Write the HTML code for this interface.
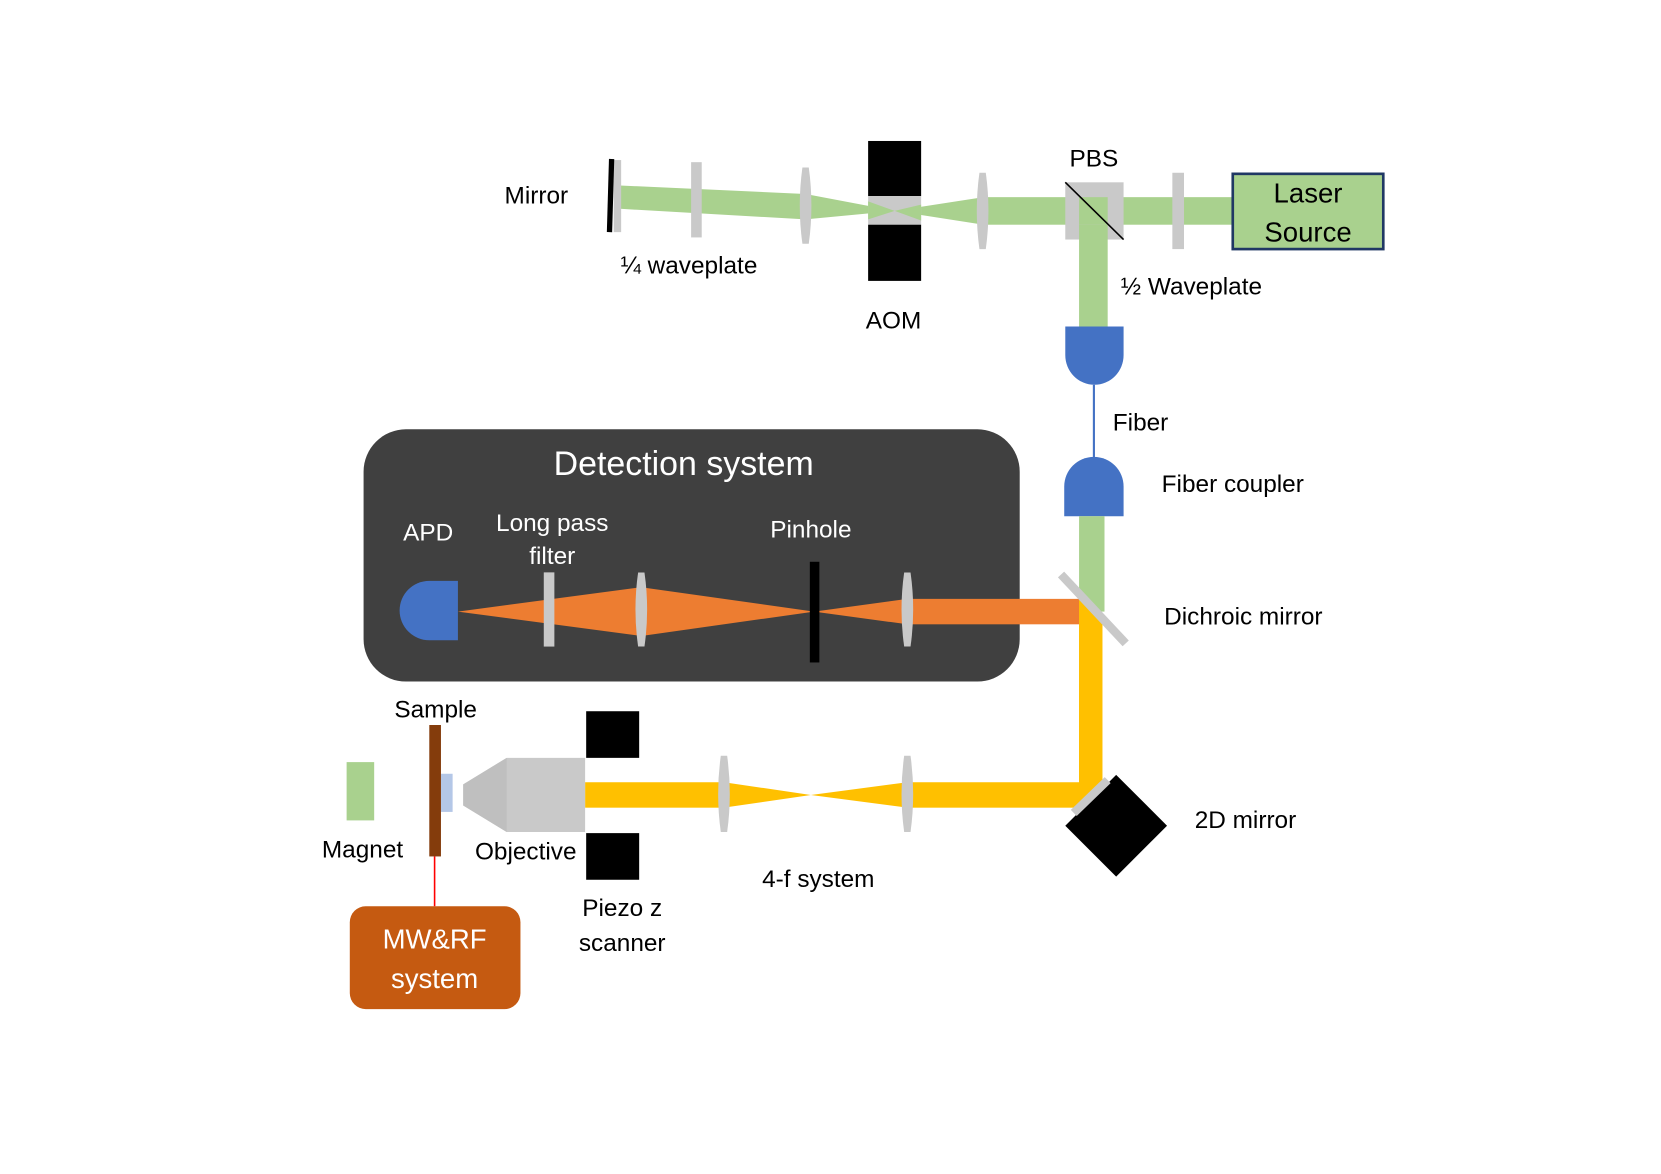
<!DOCTYPE html>
<html><head><meta charset="utf-8"><style>
html,body{margin:0;padding:0;background:#fff}
svg{display:block}
text{font-family:"Liberation Sans",sans-serif;font-size:23px;fill:#000}
</style></head><body>
<svg width="1661" height="1174" viewBox="0 0 1567 1107.6" preserveAspectRatio="none" xmlns="http://www.w3.org/2000/svg">
<defs>
<path id="lens" d="M-3,-36 L3,-36 Q8,0 3,36 L-3,36 Q-8,0 -3,-36 Z" fill="#c9c9c9"/>
</defs>
<polygon points="585,175 760,183 760,207 585,197" fill="#a9d18e"/>
<polygon points="760,183 844,199 760,207" fill="#a9d18e"/>
<polygon points="844,199 928,186 928,212" fill="#a9d18e"/>
<rect x="928" y="186" width="236" height="26" fill="#a9d18e"/>
<rect x="819" y="133" width="50" height="52" fill="#000"/>
<rect x="819" y="185" width="50" height="27" fill="#c9c9c9"/>
<rect x="819" y="212" width="50" height="53" fill="#000"/>
<polygon points="819,190 844,199 819,207" fill="#a9d18e"/>
<polygon points="869,193 844,199 869,208" fill="#a9d18e"/>
<rect x="579" y="151" width="7" height="68" fill="#c9c9c9"/>
<line x1="577" y1="150" x2="575" y2="219" stroke="#000" stroke-width="5"/>
<rect x="652" y="153" width="10" height="71" fill="#c9c9c9"/>
<use href="#lens" transform="translate(760,194)"/>
<use href="#lens" transform="translate(927,199)"/>
<rect x="1005" y="172" width="55" height="54" fill="#c9c9c9"/>
<rect x="1018" y="186" width="27" height="26" fill="#a9d18e"/>
<rect x="1018" y="212" width="27" height="97" fill="#a9d18e"/>
<line x1="1005" y1="172" x2="1060" y2="226" stroke="#000" stroke-width="1.5"/>
<rect x="1106" y="163" width="11" height="72" fill="#c9c9c9"/>
<rect x="1163" y="164" width="142" height="71" fill="#a9d18e" stroke="#203864" stroke-width="2.5"/>
<text x="1234" y="191" text-anchor="middle" style="font-size:26px">Laser</text>
<text x="1234" y="228" text-anchor="middle" style="font-size:26px">Source</text>
<path d="M1005,308 L1060,308 L1060,335 A27.5,28 0 0 1 1005,335 Z" fill="#4472c4"/>
<line x1="1032" y1="363" x2="1032" y2="432" stroke="#4472c4" stroke-width="2"/>
<path d="M1004,487 L1060,487 L1060,459 A28,28 0 0 0 1004,459 Z" fill="#4472c4"/>
<rect x="1018" y="487" width="24" height="90" fill="#a9d18e"/>
<rect x="343" y="405" width="619" height="238" rx="40" fill="#404040"/>
<text x="645" y="448" text-anchor="middle" style="font-size:32px;fill:#fff">Detection system</text>
<text x="404" y="510" text-anchor="middle" style="fill:#fff">APD</text>
<text x="521" y="501" text-anchor="middle" style="fill:#fff">Long pass</text>
<text x="521" y="532" text-anchor="middle" style="fill:#fff">filter</text>
<text x="765" y="507" text-anchor="middle" style="fill:#fff">Pinhole</text>
<path d="M432,548 L432,604 L405,604 A28,28 0 0 1 405,548 Z" fill="#4472c4"/>
<polygon points="432,577 605,554 768,577 605,600" fill="#ed7d31"/>
<polygon points="768,577 856,565 856,589" fill="#ed7d31"/>
<rect x="856" y="565" width="164" height="24" fill="#ed7d31"/>
<rect x="513" y="540" width="10" height="70" fill="#c9c9c9"/>
<use href="#lens" transform="translate(605,575) scale(1,0.97)"/>
<rect x="764" y="530" width="9" height="95" fill="#000"/>
<use href="#lens" transform="translate(856,575) scale(1,0.97)"/>
<polygon points="1018,565 1040,589 1040,762 1018,762" fill="#ffc000"/>
<rect x="1018" y="589" width="22" height="173" fill="#ffc000"/>
<rect x="856" y="738" width="184" height="24" fill="#ffc000"/>
<polygon points="683,738 765,750 683,762" fill="#ffc000"/>
<polygon points="856,738 765,750 856,762" fill="#ffc000"/>
<rect x="552" y="738" width="131" height="24" fill="#ffc000"/>
<line x1="1001" y1="542" x2="1062" y2="607" stroke="#c9c9c9" stroke-width="8"/>
<polygon points="1053,731 1101,779 1053,827 1005,779" fill="#000"/>
<line x1="1013" y1="767" x2="1045" y2="736" stroke="#c9c9c9" stroke-width="8"/>
<use href="#lens" transform="translate(683,749)"/>
<use href="#lens" transform="translate(856,749)"/>
<rect x="553" y="671" width="50" height="44" fill="#000"/>
<rect x="553" y="786" width="50" height="44" fill="#000"/>
<polygon points="478,715 552,715 552,785 478,785 437,760 437,740" fill="#c9c9c9"/>
<polygon points="478,715 478,785 437,760 437,740" fill="#bfbfbf"/>
<rect x="416" y="730" width="11" height="36" fill="#b4c7e7"/>
<rect x="405" y="684" width="11" height="124" fill="#843c0c"/>
<rect x="327" y="719" width="26" height="55" fill="#a9d18e"/>
<line x1="410" y1="808" x2="410" y2="855" stroke="#ff0000" stroke-width="1.5"/>
<rect x="330" y="855" width="161" height="97" rx="15" fill="#c55a11"/>
<text x="410" y="895" text-anchor="middle" style="font-size:26px;fill:#fff">MW&amp;RF</text>
<text x="410" y="932" text-anchor="middle" style="font-size:26px;fill:#fff">system</text>
<text x="506" y="192" text-anchor="middle">Mirror</text>
<text x="650" y="258" text-anchor="middle">¼ waveplate</text>
<text x="843" y="310" text-anchor="middle">AOM</text>
<text x="1032" y="157" text-anchor="middle">PBS</text>
<text x="1124" y="278" text-anchor="middle">½ Waveplate</text>
<text x="1076" y="406" text-anchor="middle">Fiber</text>
<text x="1163" y="464" text-anchor="middle">Fiber coupler</text>
<text x="1173" y="589" text-anchor="middle">Dichroic mirror</text>
<text x="1175" y="781" text-anchor="middle">2D mirror</text>
<text x="772" y="837" text-anchor="middle">4-f system</text>
<text x="587" y="864" text-anchor="middle">Piezo z</text>
<text x="587" y="897" text-anchor="middle">scanner</text>
<text x="496" y="811" text-anchor="middle">Objective</text>
<text x="342" y="809" text-anchor="middle">Magnet</text>
<text x="411" y="677" text-anchor="middle">Sample</text>
</svg>
</body></html>
